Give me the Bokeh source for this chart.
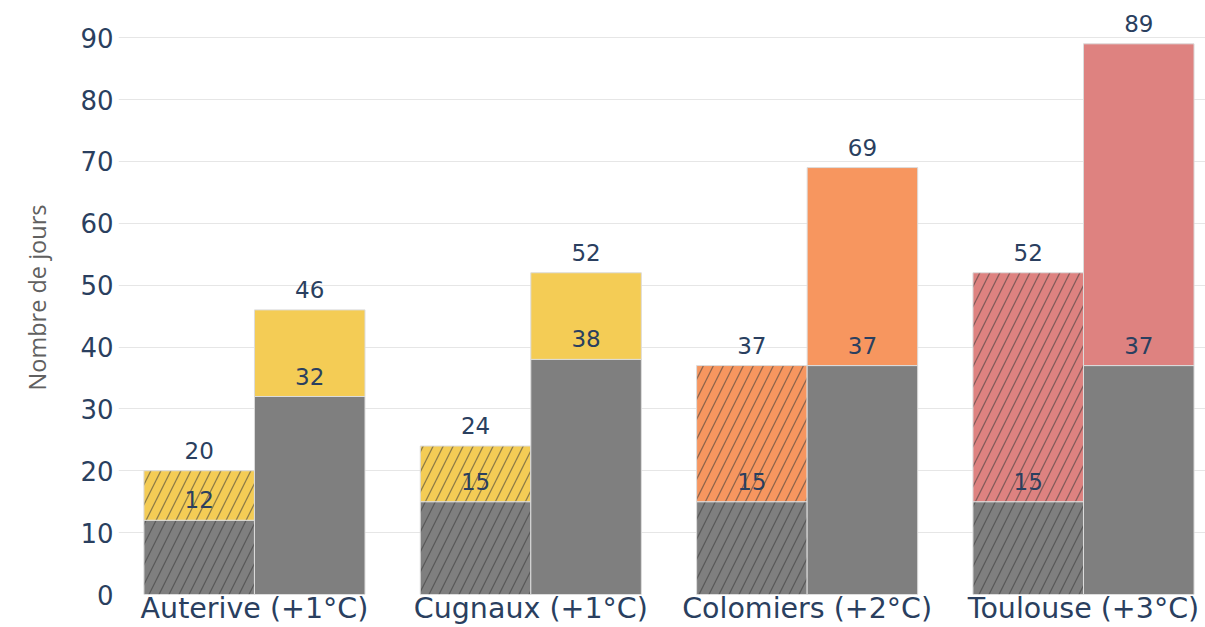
from bokeh.plotting import figure
from bokeh.models import ColumnDataSource, LabelSet, Range1d, FixedTicker
from bokeh.core.properties import value
from bokeh.transform import dodge
from bokeh.embed import file_html
from bokeh.resources import INLINE

# Data
communes = ["Auterive (+1°C)", "Cugnaux (+1°C)", "Colomiers (+2°C)", "Toulouse (+3°C)"]
hatched_base = [12, 15, 15, 15]
hatched_total = [20, 24, 37, 52]
solid_base = [32, 38, 37, 37]
solid_total = [46, 52, 69, 89]
commune_colors = ["#F4CC55", "#F4CC55", "#F7965F", "#DE8280"]
base_color = "#7F7F7F"
y_ticks = [0, 10, 20, 30, 40, 50, 60, 70, 80, 90]

xs = list(range(len(communes)))
src = ColumnDataSource(dict(
    x=xs,
    hb=hatched_base, ht=hatched_total,
    sb=solid_base, st=solid_total,
    col=commune_colors,
    hb_lbl=[str(v) for v in hatched_base], ht_lbl=[str(v) for v in hatched_total],
    sb_lbl=[str(v) for v in solid_base], st_lbl=[str(v) for v in solid_total],
))

FONT = "DejaVu Sans"
TXT = "#2a3f5f"

p = figure(width=1205, height=627, output_backend="svg", toolbar_location=None,
           x_range=Range1d(-0.492, 3.4415), y_range=Range1d(0, 96),
           min_border_left=118, min_border_right=0, min_border_top=0, min_border_bottom=0)
p.outline_line_color = None
p.background_fill_color = "white"
p.border_fill_color = "white"

bw = 0.4
edge = "#dcdcdc"
hatch = dict(hatch_pattern="/", hatch_color="#3a3a3a", hatch_alpha=0.55,
             hatch_scale=20, hatch_weight=1.3)

# hatched bars (left of each group)
p.vbar(x=dodge("x", -0.2), width=bw, bottom=0, top="hb", source=src,
       fill_color=base_color, line_color=edge, line_width=1, **hatch)
p.vbar(x=dodge("x", -0.2), width=bw, bottom="hb", top="ht", source=src,
       fill_color="col", line_color=edge, line_width=1, **hatch)
# solid bars (right of each group)
p.vbar(x=dodge("x", 0.2), width=bw, bottom=0, top="sb", source=src,
       fill_color=base_color, line_color=edge, line_width=1)
p.vbar(x=dodge("x", 0.2), width=bw, bottom="sb", top="st", source=src,
       fill_color="col", line_color=edge, line_width=1)

# value labels
for xo, yk, tk in [(-0.2, "hb", "hb_lbl"), (-0.2, "ht", "ht_lbl"),
                   (0.2, "sb", "sb_lbl"), (0.2, "st", "st_lbl")]:
    p.add_layout(LabelSet(x=dodge("x", xo), y=yk, text=tk, source=src,
                          text_align="center", text_baseline="alphabetic",
                          y_offset=12, text_font=value(FONT), text_font_size="23px",
                          text_color=TXT))

# axes
p.xaxis.ticker = FixedTicker(ticks=xs)
p.xaxis.major_label_overrides = {i: c for i, c in enumerate(communes)}
p.xaxis.axis_line_color = None
p.xaxis.major_tick_line_color = None
p.xaxis.minor_tick_line_color = None
p.xaxis.major_tick_in = 0
p.xaxis.major_tick_out = 0
p.xaxis.major_label_standoff = -3
p.xaxis.major_label_text_font = FONT
p.xaxis.major_label_text_font_size = "28.5px"
p.xaxis.major_label_text_color = TXT
p.xgrid.grid_line_color = None

p.yaxis.ticker = FixedTicker(ticks=y_ticks)
p.yaxis.axis_line_color = None
p.yaxis.major_tick_line_color = None
p.yaxis.minor_tick_line_color = None
p.yaxis.major_tick_in = 0
p.yaxis.major_tick_out = 0
p.yaxis.major_label_standoff = 5
p.yaxis.major_label_text_font = FONT
p.yaxis.major_label_text_font_size = "26px"
p.yaxis.major_label_text_color = TXT
p.yaxis.axis_label = "Nombre de jours"
p.yaxis.axis_label_text_font = "Open Sans"
p.yaxis.axis_label_text_font_style = "normal"
p.yaxis.axis_label_text_font_size = "23.5px"
p.yaxis.axis_label_text_color = "#606060"
p.yaxis.axis_label_standoff = 24
p.ygrid.grid_line_color = "#e6e6e6"
p.ygrid.grid_line_width = 1

open("out.html", "w").write(file_html(p, INLINE))
